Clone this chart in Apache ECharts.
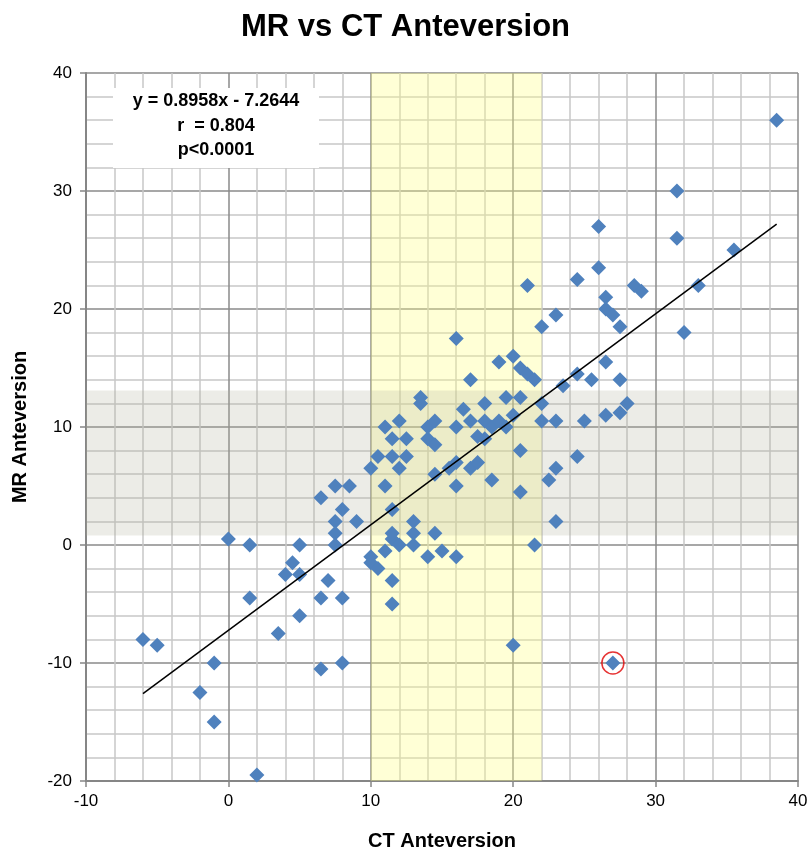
<!DOCTYPE html>
<html>
<head>
<meta charset="utf-8">
<script src="https://cdn.jsdelivr.net/npm/echarts@6/dist/echarts.min.js"></script>
<style>
  html, body { margin: 0; padding: 0; background: #fff; }
  #chart { width: 811px; height: 850px; }
</style>
</head>
<body>
<div id="chart"></div>
<script>
// CT anteversion (x) vs MR anteversion (y)
const ctValues = [
  -6, -5, -2, -1, -1, 2, 0, 1.5, 1.5, 3.5, 4, 4.5, 5, 5, 5, 6.5, 6.5, 7, 8, 8,
  7.5, 7.5, 7.5, 6.5, 7.5, 8.5, 8, 9,
  10, 10, 10.5, 11, 11.5, 12, 13, 11.5, 13, 14.5, 13, 11.5, 11.5, 11.5, 14, 15, 16,
  11, 16, 10, 12, 10.5, 11.5, 12.5, 14.5, 15.5, 16, 17, 17.5, 18.5,
  11.5, 12.5, 14, 14.5, 17.5, 18, 11, 12, 14, 14.5, 16, 17, 18, 18.5, 19, 19.5, 20,
  16.5, 13.5, 13.5, 18, 19.5, 20.5, 17, 16, 19, 20, 20.5, 21, 21.5, 20.5, 20.5, 21.5, 20,
  22, 22, 23, 25, 26.5, 27.5, 28, 22.5, 23, 24.5, 23, 23.5, 24.5, 25.5, 27.5, 26.5,
  22, 23, 26.5, 27, 27.5, 26.5, 21, 24.5, 26, 28.5, 29, 33, 32, 26, 31.5, 35.5, 31.5, 38.5, 27
];
const mrValues = [
  -8, -8.5, -12.5, -10, -15, -19.5, 0.5, 0, -4.5, -7.5, -2.5, -1.5, -2.5, 0, -6, -4.5, -10.5, -3, -4.5, -10,
  2, 1, 0, 4, 5, 5, 3, 2,
  -1, -1.5, -2, -0.5, 0.5, 0, 0, 1, 1, 1, 2, 3, -3, -5, -1, -0.5, -1,
  5, 5, 6.5, 6.5, 7.5, 7.5, 7.5, 6, 6.5, 7, 6.5, 7, 5.5,
  9, 9, 9, 8.5, 9.2, 9, 10, 10.5, 10, 10.5, 10, 10.5, 10.5, 10, 10.5, 10, 11,
  11.5, 12, 12.5, 12, 12.5, 12.5, 14, 17.5, 15.5, 16, 15, 14.5, 14, 8, 4.5, 0, -8.5,
  12, 10.5, 10.5, 10.5, 11, 11.2, 12, 5.5, 6.5, 7.5, 2, 13.5, 14.5, 14, 14, 15.5,
  18.5, 19.5, 20, 19.5, 18.5, 21, 22, 22.5, 23.5, 22, 21.5, 22, 18, 27, 26, 25, 30, 36, -10
];

// least squares line as drawn in the picture (end points)
const trendX = [-6, 38.5];
const trendY = [-12.6, 27.2];

// highlighted outlier
const circledPoint = [27, -10];

// shaded normal ranges
const ctNormalRange = [10, 22];
const mrNormalRange = [0.8, 13.1];

const statLines = ['y = 0.8958x - 7.2644', 'r  = 0.804', 'p<0.0001'];

const xTicks = [-10, 0, 10, 20, 30, 40];
const yTicks = [-20, -10, 0, 10, 20, 30, 40];

const points = ctValues.map((x, i) => [x, mrValues[i]]);
const trend = trendX.map((x, i) => [x, trendY[i]]);

const chart = echarts.init(document.getElementById('chart'));

const tickFont = {
  color: '#000',
  fontSize: 17,
  fontFamily: 'Liberation Sans Narrow, Liberation Sans, sans-serif'
};

chart.setOption({
  backgroundColor: '#fff',
  animation: false,
  title: {
    text: 'MR vs CT Anteversion',
    left: 'center',
    top: 7,
    textStyle: {
      color: '#000',
      fontSize: 31,
      fontWeight: 'bold',
      fontFamily: 'Liberation Sans, sans-serif'
    }
  },
  grid: { left: 86, right: 13, top: 73, bottom: 69, outerBoundsMode: 'none', containLabel: false },
  xAxis: {
    type: 'value',
    min: xTicks[0],
    max: xTicks[xTicks.length - 1],
    interval: 10,
    name: 'CT Anteversion',
    nameLocation: 'middle',
    nameGap: 50,
    nameTextStyle: {
      color: '#000',
      fontSize: 20,
      fontWeight: 'bold',
      fontFamily: 'Liberation Sans, sans-serif'
    },
    axisLine: { onZero: false, lineStyle: { color: '#868686', width: 2 } },
    axisTick: { show: true, length: 6, lineStyle: { color: '#868686', width: 1.5 } },
    axisLabel: Object.assign({ margin: 12 }, tickFont),
    splitLine: { show: true, lineStyle: { color: '#8a8a8a', width: 1.5 } },
    minorTick: { show: false, splitNumber: 5 },
    minorSplitLine: { show: true, lineStyle: { color: '#c8c8c8', width: 1.5 } }
  },
  yAxis: {
    type: 'value',
    min: yTicks[0],
    max: yTicks[yTicks.length - 1],
    interval: 10,
    name: 'MR Anteversion',
    nameLocation: 'middle',
    nameGap: 56,
    nameTextStyle: {
      color: '#000',
      fontSize: 20,
      fontWeight: 'bold',
      fontFamily: 'Liberation Sans, sans-serif'
    },
    axisLine: { onZero: false, lineStyle: { color: '#868686', width: 2 } },
    axisTick: { show: true, length: 6, lineStyle: { color: '#868686', width: 1.5 } },
    axisLabel: Object.assign({ margin: 14 }, tickFont),
    splitLine: { show: true, lineStyle: { color: '#8a8a8a', width: 1.5 } },
    minorTick: { show: false, splitNumber: 5 },
    minorSplitLine: { show: true, lineStyle: { color: '#c8c8c8', width: 1.5 } }
  },
  graphic: [
    {
      type: 'rect',
      shape: { x: 113, y: 88, width: 206, height: 80 },
      style: { fill: '#fff' },
      z: 5
    },
    {
      type: 'text',
      x: 216,
      y: 89,
      style: {
        text: statLines.join('\n'),
        align: 'center',
        verticalAlign: 'top',
        fill: '#000',
        font: 'bold 18px Liberation Sans, sans-serif',
        lineHeight: 24.5
      },
      z: 6
    }
  ],
  series: [
    {
      // yellow CT normal band
      type: 'scatter',
      data: [],
      silent: true,
      markArea: {
        silent: true,
        itemStyle: { color: 'rgba(255, 255, 130, 0.33)' },
        data: [[{ xAxis: ctNormalRange[0] }, { xAxis: ctNormalRange[1] }]]
      },
      z: 1
    },
    {
      // grey MR normal band
      type: 'scatter',
      data: [],
      silent: true,
      markArea: {
        silent: true,
        itemStyle: { color: 'rgba(175, 175, 155, 0.24)' },
        data: [[{ yAxis: mrNormalRange[0] }, { yAxis: mrNormalRange[1] }]]
      },
      z: 1
    },
    {
      name: 'patients',
      type: 'scatter',
      symbol: 'diamond',
      symbolSize: 15,
      data: points,
      itemStyle: { color: '#4f81bd', opacity: 1 },
      z: 3
    },
    {
      name: 'fit',
      type: 'line',
      data: trend,
      symbol: 'none',
      lineStyle: { color: '#000', width: 1.5 },
      z: 4
    },
    {
      name: 'outlier',
      type: 'scatter',
      symbol: 'circle',
      symbolSize: 22,
      data: [circledPoint],
      itemStyle: { color: 'rgba(0,0,0,0)', borderColor: '#e00000', borderWidth: 1.5 },
      z: 5
    }
  ]
});
</script>
</body>
</html>
